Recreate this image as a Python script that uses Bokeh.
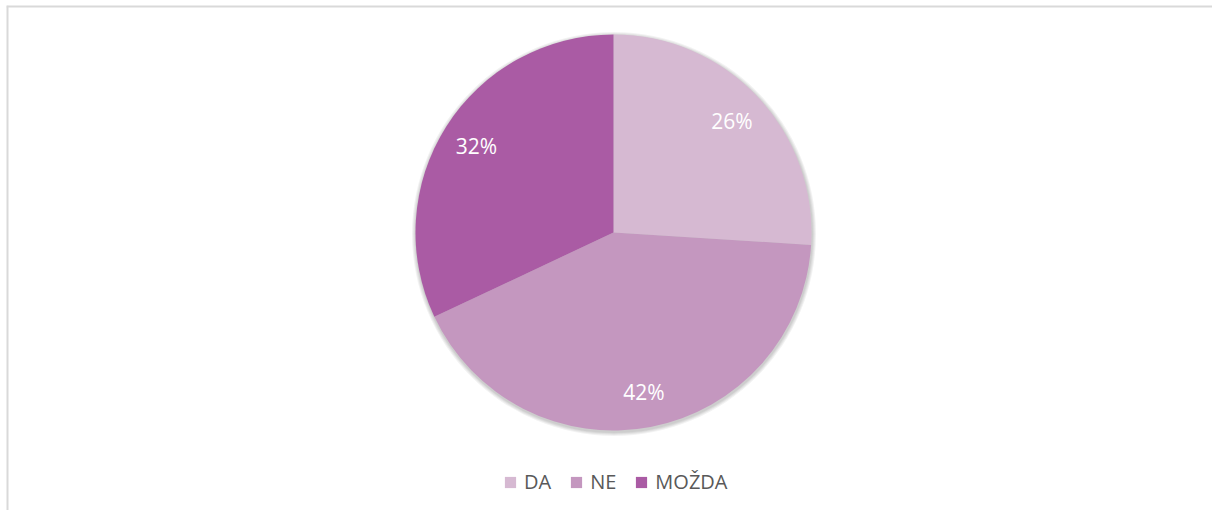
import math
from bokeh.plotting import figure
from bokeh.models import ColumnDataSource, Range1d, Legend, LegendItem, LabelSet, Span
from bokeh.embed import file_html
from bokeh.resources import INLINE
from bokeh.core.properties import value

# ---- data ----
categories = ["DA", "NE", "MOŽDA"]
percents = [26, 42, 32]
labels = ["26%", "42%", "32%"]
colors = ["#d6b9d2", "#c497bf", "#aa5ba4"]

# ---- layout constants ----
W, H = 1212, 510
BL, BT = 6, 5               # left / top border offsets of the chart frame
FW, FH = W - BL, H - BT     # frame size
CX, CY = 607, 278           # pie centre in pixels from frame left / bottom
R = 198
LABEL_FRAC = 0.82
FONT = "Open Sans"

total = float(sum(percents))
starts, ends, lx, ly = [], [], [], []
a = math.pi / 2
for v in percents:
    s = a
    e = a - v / total * 2 * math.pi
    m = (s + e) / 2
    starts.append(s)
    ends.append(e)
    lx.append(LABEL_FRAC * R * math.cos(m))
    ly.append(LABEL_FRAC * R * math.sin(m))
    a = e

src = ColumnDataSource(dict(cat=categories, pct=percents, lab=labels, color=colors,
                            start=starts, end=ends, lx=lx, ly=ly))

p = figure(width=W, height=H, output_backend="svg", toolbar_location=None,
           x_range=Range1d(-CX, FW - CX), y_range=Range1d(-CY, FH - CY),
           min_border_left=BL, min_border_top=BT, min_border_right=0, min_border_bottom=0,
           outline_line_color=None,
           background_fill_color="white", border_fill_color="white")
p.axis.visible = False
p.grid.visible = False

# chart frame (only left/top edges fall inside the window)
p.add_layout(Span(location=-CX, dimension="height", line_color="#d9d9d9", line_width=4))
p.add_layout(Span(location=FH - CY, dimension="width", line_color="#d9d9d9", line_width=4))

# soft shadow behind the pie
for i, al in enumerate([0.05, 0.05, 0.05, 0.05]):
    p.circle(x=[0.5], y=[-1.5], radius=R + 1 + i, fill_color="black", fill_alpha=al,
             line_color=None)

r = p.wedge(x=0, y=0, radius=R, start_angle="start", end_angle="end", direction="clock",
            fill_color="color", line_color=None, source=src)

p.add_layout(LabelSet(x="lx", y="ly", text="lab", source=src, text_color="white",
                      text_font=value(FONT), text_font_size="21px",
                      text_align="center", text_baseline="middle"))

legend = Legend(items=[LegendItem(label=c, renderers=[r], index=i) for i, c in enumerate(categories)],
                orientation="horizontal", location=(497, 15),
                label_text_font=FONT, label_text_font_size="20px", label_text_color="#595959",
                glyph_width=14, glyph_height=14, label_standoff=7, spacing=18,
                padding=0, margin=0, border_line_color=None, background_fill_alpha=0)
p.add_layout(legend)

open("out.html", "w").write(file_html(p, INLINE))
